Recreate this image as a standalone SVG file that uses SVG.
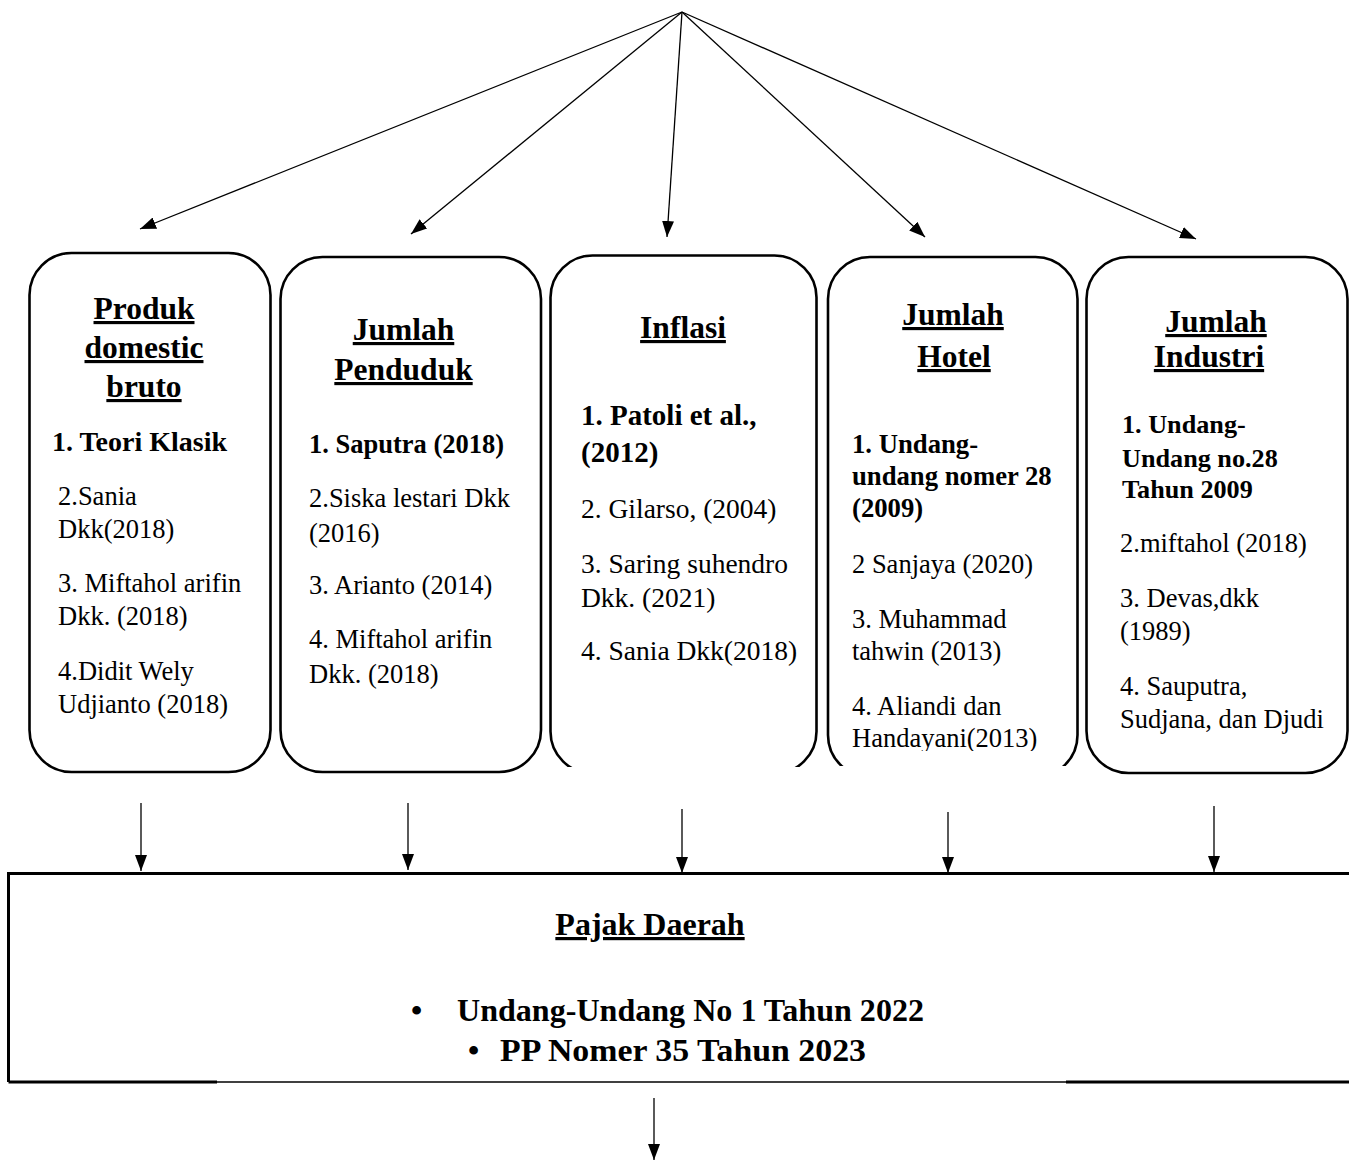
<svg xmlns="http://www.w3.org/2000/svg" width="1349" height="1160" viewBox="0 0 1349 1160">
<style>
text { font-family: "Liberation Serif", "Times New Roman", serif; fill: #000; }
.h { font-weight: bold; font-size: 31.5px; text-anchor: middle; text-decoration: underline; text-decoration-thickness: 3px; }
.b { font-weight: bold; font-size: 26.5px; }
.r { font-size: 26.5px; }
.t { font-weight: bold; font-size: 32px; }
.box { fill: #fff; stroke: #000; stroke-width: 2.6; }
.con { stroke: #000; stroke-width: 1.3; fill: none; marker-end: url(#ah); }
</style>
<defs>
<marker id="ah" viewBox="0 0 16 12" refX="16" refY="6" markerWidth="16" markerHeight="12" markerUnits="userSpaceOnUse" orient="auto"><path d="M0,0 L16,6 L0,12 z" fill="#000"/></marker>
<clipPath id="c3"><rect x="530" y="230" width="300" height="537"/></clipPath>
<clipPath id="c4"><rect x="815" y="230" width="275" height="536"/></clipPath>
<clipPath id="t4"><rect x="815" y="230" width="275" height="521"/></clipPath>
</defs>
<rect width="1349" height="1160" fill="#fff"/>

<g id="connectors">
<line class="con" x1="682" y1="12" x2="140" y2="229"/>
<line class="con" x1="682" y1="12" x2="411" y2="234"/>
<line class="con" x1="682" y1="12" x2="667" y2="237"/>
<line class="con" x1="682" y1="12" x2="925" y2="237"/>
<line class="con" x1="682" y1="12" x2="1196" y2="239"/>
<line class="con" x1="141" y1="803" x2="141" y2="871"/>
<line class="con" x1="408" y1="803" x2="408" y2="870"/>
<line class="con" x1="682" y1="809" x2="682" y2="873"/>
<line class="con" x1="948" y1="812" x2="948" y2="873"/>
<line class="con" x1="1214" y1="806" x2="1214" y2="872"/>
<line class="con" x1="654" y1="1098" x2="654" y2="1160"/>
</g>

<g id="node-pdb">
<rect class="box" x="29.5" y="253" width="241" height="519" rx="42"/>
<text class="h" x="144" y="319">Produk</text>
<text class="h" x="144" y="358">domestic</text>
<text class="h" x="144" y="397">bruto</text>
<text class="b" x="52" y="451" style="font-size:28px">1. Teori Klasik</text>
<text class="r" x="58" y="505">2.Sania</text>
<text class="r" x="58" y="538">Dkk(2018)</text>
<text class="r" x="58" y="592">3. Miftahol arifin</text>
<text class="r" x="58" y="625">Dkk. (2018)</text>
<text class="r" x="58" y="680">4.Didit Wely</text>
<text class="r" x="58" y="713">Udjianto (2018)</text>
</g>

<g id="node-penduduk">
<rect class="box" x="280.5" y="257" width="260.5" height="515" rx="42"/>
<text class="h" x="403.5" y="340">Jumlah</text>
<text class="h" x="403.5" y="380">Penduduk</text>
<text class="b" x="309" y="453">1. Saputra (2018)</text>
<text class="r" x="309" y="507">2.Siska lestari Dkk</text>
<text class="r" x="309" y="542">(2016)</text>
<text class="r" x="309" y="594">3. Arianto (2014)</text>
<text class="r" x="309" y="648">4. Miftahol arifin</text>
<text class="r" x="309" y="683">Dkk. (2018)</text>
</g>

<g id="node-inflasi">
<rect class="box" x="550.5" y="255.5" width="266" height="518" rx="42" clip-path="url(#c3)"/>
<text class="h" x="683" y="338">Inflasi</text>
<text class="b" x="581" y="425" style="font-size:29px">1. Patoli et al.,</text>
<text class="b" x="581" y="462" style="font-size:29px">(2012)</text>
<text class="r" x="581" y="518" style="font-size:27.5px">2. Gilarso, (2004)</text>
<text class="r" x="581" y="573" style="font-size:27.5px">3. Saring suhendro</text>
<text class="r" x="581" y="607" style="font-size:27.5px">Dkk. (2021)</text>
<text class="r" x="581" y="660" style="font-size:27.5px">4. Sania Dkk(2018)</text>
</g>

<g id="node-hotel">
<rect class="box" x="828" y="257" width="249.5" height="520" rx="42" clip-path="url(#c4)"/>
<text class="h" x="953" y="325">Jumlah</text>
<text class="h" x="954" y="367">Hotel</text>
<text class="b" x="852" y="453" style="font-size:26.7px">1. Undang-</text>
<text class="b" x="852" y="485" style="font-size:26.7px">undang nomer 28</text>
<text class="b" x="852" y="517" style="font-size:26.7px">(2009)</text>
<text class="r" x="852" y="573">2 Sanjaya (2020)</text>
<text class="r" x="852" y="628">3. Muhammad</text>
<text class="r" x="852" y="660">tahwin (2013)</text>
<text class="r" x="852" y="715">4. Aliandi dan</text>
<text class="r" x="852" y="747" clip-path="url(#t4)">Handayani(2013)</text>
</g>

<g id="node-industri">
<rect class="box" x="1086.5" y="257" width="261" height="516" rx="42"/>
<text class="h" x="1216" y="332">Jumlah</text>
<text class="h" x="1209" y="367">Industri</text>
<text class="b" x="1122" y="433" style="font-size:26.2px">1. Undang-</text>
<text class="b" x="1122" y="467" style="font-size:26.2px">Undang no.28</text>
<text class="b" x="1122" y="498" style="font-size:26.2px">Tahun 2009</text>
<text class="r" x="1120" y="552">2.miftahol (2018)</text>
<text class="r" x="1120" y="607">3. Devas,dkk</text>
<text class="r" x="1120" y="640">(1989)</text>
<text class="r" x="1120" y="695">4. Sauputra,</text>
<text class="r" x="1120" y="728">Sudjana, dan Djudi</text>
</g>

<g id="node-pajak">
<rect x="8" y="873" width="1345" height="209" fill="#fff"/>
<path d="M8.5,1082 V873.5 H1349" fill="none" stroke="#000" stroke-width="3"/>
<path d="M8.5,1082 H217 M1066,1082 H1349" fill="none" stroke="#000" stroke-width="3"/>
<path d="M217,1082 H1066" fill="none" stroke="#000" stroke-width="1.5"/>
<text class="h" x="650" y="935" style="font-size:32px">Pajak Daerah</text>
<text class="t" x="411" y="1021">•</text>
<text class="t" x="457" y="1021" textLength="467" lengthAdjust="spacingAndGlyphs">Undang-Undang No 1 Tahun 2022</text>
<text class="t" x="468" y="1061">•</text>
<text class="t" x="500" y="1061" textLength="366" lengthAdjust="spacingAndGlyphs">PP Nomer 35 Tahun 2023</text>
</g>
</svg>
